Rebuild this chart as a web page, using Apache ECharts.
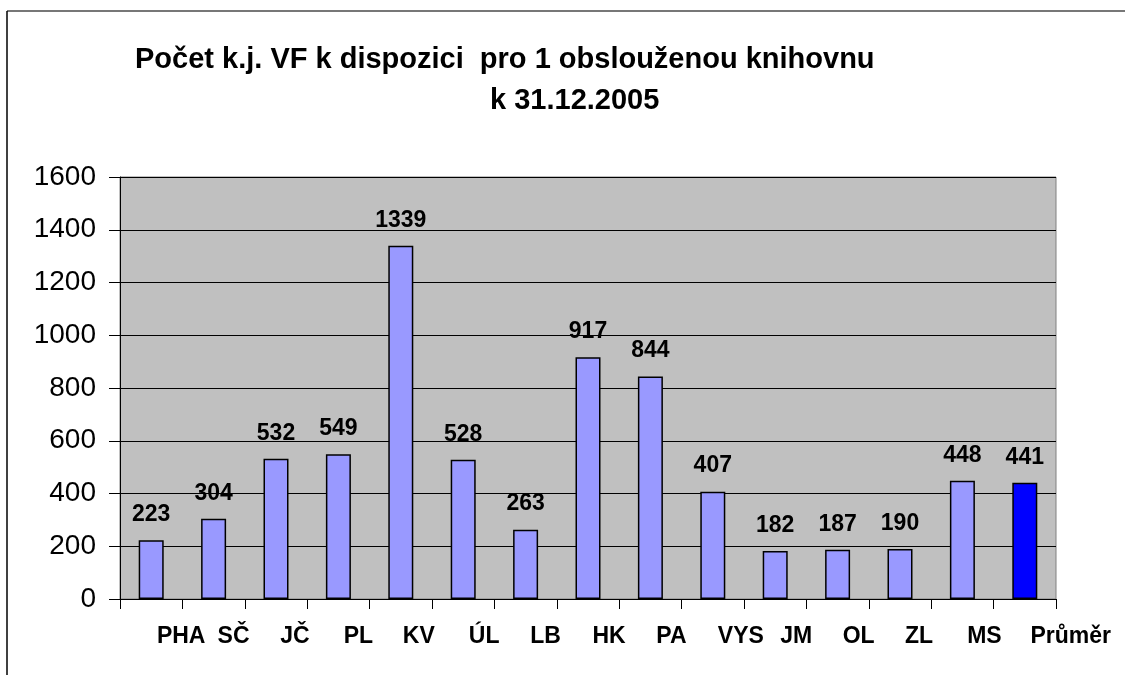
<!DOCTYPE html>
<html>
<head>
<meta charset="utf-8">
<script src="https://cdn.jsdelivr.net/npm/echarts@6/dist/echarts.min.js"></script>
<style>
  html, body { margin: 0; padding: 0; background: #fff; }
  #main { width: 1125px; height: 675px; }
</style>
</head>
<body>
<div id="main"></div>
<script>
// kraje + průměr
var categories = ['PHA', 'SČ', 'JČ', 'PL', 'KV', 'ÚL', 'LB', 'HK', 'PA', 'VYS', 'JM', 'OL', 'ZL', 'MS', 'Průměr'];
var values = [223, 304, 532, 549, 1339, 528, 263, 917, 844, 407, 182, 187, 190, 448, 441];
var yTicks = [0, 200, 400, 600, 800, 1000, 1200, 1400, 1600];

// posun popisků osy x doprava (px), jako v originálu
var labelShift = [30, 20, 19, 20, 18, 21, 20, 21, 21, 28, 21, 21, 19, 22, 46];

var myChart = echarts.init(document.getElementById('main'));

var rich = {};
for (var i = 0; i < labelShift.length; i++) {
    rich['s' + i] = {
        fontFamily: 'Liberation Sans',
        fontWeight: 'bold',
        fontSize: 23,
        color: '#000',
        padding: [0, 0, 0, labelShift[i] * 2]
    };
}

var barData = [];
for (var j = 0; j < values.length; j++) {
    var last = (j === values.length - 1);
    barData.push({
        value: values[j],
        itemStyle: { color: last ? '#0000ff' : '#9999ff' }
    });
}

myChart.setOption({
    backgroundColor: '#fff',
    animation: false,
    title: [
        {
            text: 'Počet k.j. VF k dispozici  pro 1 obslouženou knihovnu',
            left: 130, top: 40,
            textStyle: { fontFamily: 'Liberation Sans', fontWeight: 'bold', fontSize: 29, color: '#000' }
        },
        {
            text: 'k 31.12.2005',
            left: 485, top: 81,
            textStyle: { fontFamily: 'Liberation Sans', fontWeight: 'bold', fontSize: 29, color: '#000' }
        }
    ],
    grid: {
        left: 120, top: 177, right: 69, bottom: 76,
        show: true,
        backgroundColor: '#c0c0c0',
        borderColor: '#808080',
        borderWidth: 1
    },
    xAxis: {
        type: 'category',
        data: categories,
        axisLine: { lineStyle: { color: '#000', width: 1 } },
        axisTick: { show: true, length: 10, lineStyle: { color: '#000' } },
        axisLabel: {
            interval: 0,
            margin: 26,
            formatter: function (val, idx) { return '{s' + idx + '|' + val + '}'; },
            rich: rich
        }
    },
    yAxis: {
        type: 'value',
        min: yTicks[0],
        max: yTicks[yTicks.length - 1],
        interval: 200,
        axisLine: { show: true, lineStyle: { color: '#000', width: 1 } },
        axisTick: { show: true, length: 11, lineStyle: { color: '#000' } },
        axisLabel: {
            margin: 24,
            fontFamily: 'Liberation Sans',
            fontSize: 28,
            color: '#000',
            formatter: function (v) { return String(v); }
        },
        splitLine: { lineStyle: { color: '#000', width: 1 } }
    },
    series: [{
        type: 'bar',
        data: barData,
        barWidth: 25,
        itemStyle: { borderColor: '#000', borderWidth: 1.5 },
        label: {
            show: true,
            position: 'top',
            distance: 14,
            fontFamily: 'Liberation Sans',
            fontWeight: 'bold',
            fontSize: 23,
            color: '#000'
        }
    }],
    graphic: [
        { type: 'line', shape: { x1: 7, y1: 11, x2: 1125, y2: 11 }, style: { stroke: '#777', lineWidth: 2 } },
        { type: 'line', shape: { x1: 7, y1: 11, x2: 7, y2: 675 }, style: { stroke: '#000', lineWidth: 1.5 } }
    ]
});
window.onresize = myChart.resize;
</script>
</body>
</html>
